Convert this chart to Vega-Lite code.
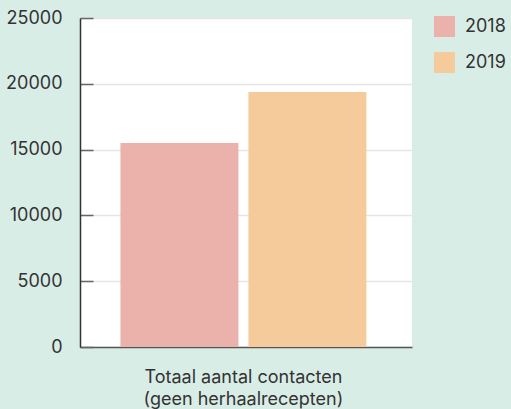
{
  "$schema": "https://vega.github.io/schema/vega-lite/v6.json",
  "width": 332,
  "height": 329,
  "autosize": "none",
  "padding": {"left": 80, "top": 18, "right": 99, "bottom": 62},
  "background": "#d9ede7",
  "config": {"view": {"fill": "white", "stroke": null}, "font": "Inter"},
  "data": {"values": [
    {"cat": "Totaal aantal contacten\n(geen herhaalrecepten)", "year": "2018", "value": 15500},
    {"cat": "Totaal aantal contacten\n(geen herhaalrecepten)", "year": "2019", "value": 19380}
  ]},
  "mark": "bar",
  "encoding": {
    "x": {"field": "cat", "type": "nominal",
      "scale": {"paddingOuter": 0.175, "paddingInner": 0, "align": 0.47},
      "axis": {"title": null, "labelAngle": 0, "ticks": false, "labelFontSize": 18, "labelColor": "#333",
        "labelPadding": 21, "labelLimit": 400, "domainColor": "#555", "domainWidth": 1.5, "labelLineHeight": 22,
        "labelExpr": "split(datum.label, '\\n')"}},
    "xOffset": {"field": "year", "scale": {"paddingInner": 0.078, "paddingOuter": 0}},
    "y": {"field": "value", "type": "quantitative",
      "scale": {"domain": [0, 25000]},
      "axis": {"title": null, "values": [0, 5000, 10000, 15000, 20000, 25000], "format": "d",
        "tickSize": -13, "tickColor": "#666", "tickWidth": 1.5,
        "gridColor": "#e5e5e5", "gridWidth": 1.5,
        "domainColor": "#333", "domainWidth": 1.5,
        "labelPadding": 31, "labelFontSize": 18, "labelColor": "#333"}},
    "color": {"field": "year", "type": "nominal",
      "scale": {"range": ["#ebb1ab", "#f6cb9b"]},
      "legend": {"title": null, "orient": "none", "legendX": 354, "legendY": -2,
        "symbolType": "square", "symbolSize": 441, "symbolStrokeWidth": 0,
        "labelFontSize": 18, "labelColor": "#333", "rowPadding": 15, "labelOffset": 10}}
  }
}
